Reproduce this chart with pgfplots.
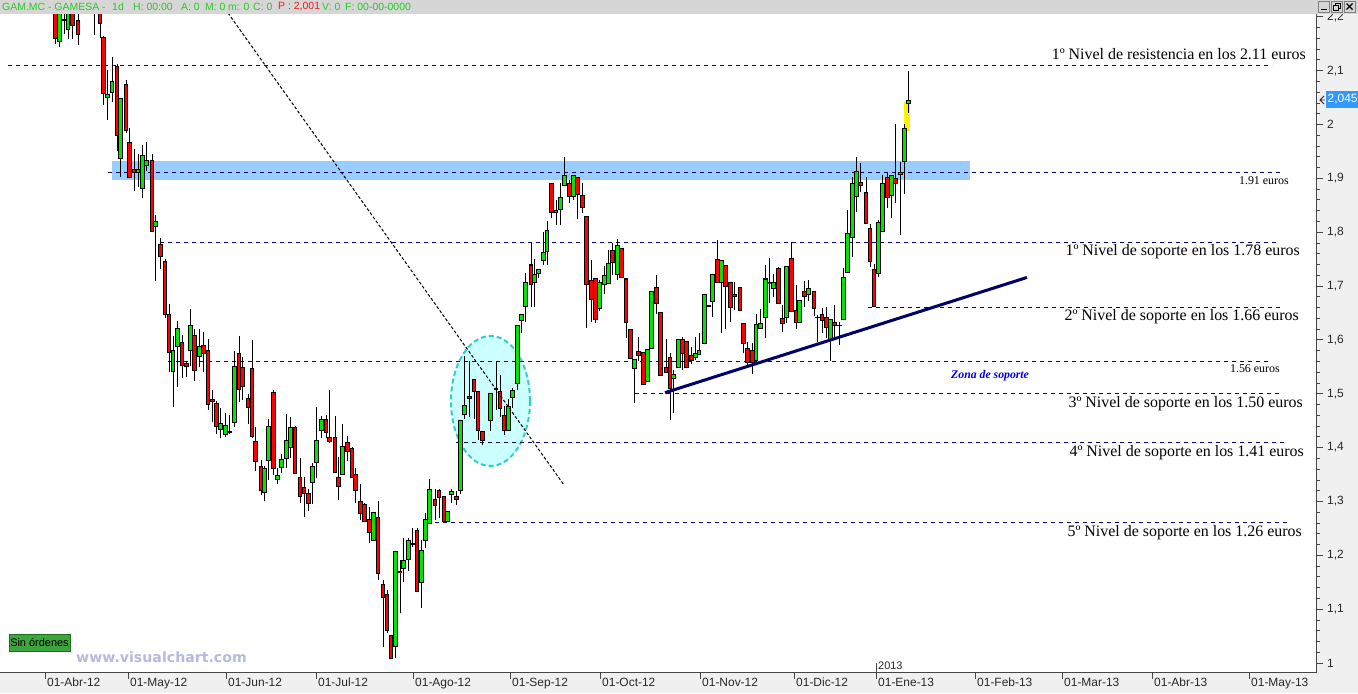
\documentclass[border=0pt]{standalone}
\usepackage{fontspec}
\setmainfont{Liberation Serif}
\setsansfont{Liberation Sans}
\newfontfamily\wwwfont{DejaVu Sans}
\usepackage{pgfplots}
\usepackage{pgfplotstable}
\pgfplotsset{compat=1.18}

\definecolor{panelgray}{RGB}{240,240,240}
\definecolor{bargray}{RGB}{214,214,214}
\definecolor{axisgray}{RGB}{70,70,70}
\definecolor{labelgray}{RGB}{40,40,40}
\definecolor{navyline}{RGB}{0,0,102}
\definecolor{bandblue}{RGB}{153,204,255}
\definecolor{ellfill}{RGB}{204,255,255}
\definecolor{elldraw}{RGB}{51,204,204}
\definecolor{candlered}{RGB}{255,0,0}
\definecolor{candlegreen}{RGB}{0,230,0}
\definecolor{topgreen}{RGB}{40,200,40}
\definecolor{topred}{RGB}{240,30,30}
\definecolor{pricebox}{RGB}{51,153,255}
\definecolor{wwwcol}{RGB}{180,186,222}
\definecolor{btngreen}{RGB}{60,165,60}
\definecolor{btnborder}{RGB}{30,110,30}
\definecolor{zonablue}{RGB}{0,0,230}

\newcommand\annot{\fontsize{16}{16}\selectfont}
\newcommand\annotsmall{\fontsize{12}{12}\selectfont}

% GAMESA daily candles: x position, open, high, low, close
\pgfplotstableread{
x o h l c
55.7 2.25 2.27 2.149 2.159
64 2.195 2.22 2.168 2.193
72.7 2.23 2.25 2.159 2.182
78 2.194 2.215 2.148 2.167
94 2.26 2.27 2.167 2.23
100 2.235 2.25 2.160 2.186
103.7 2.162 2.165 2.037 2.056
117 2.108 2.112 1.950 1.978
126 2.075 2.083 1.985 1.988
129.7 1.967 1.993 1.900 1.900
134 1.918 1.954 1.876 1.909
152 1.934 1.945 1.800 1.800
160.7 1.778 1.790 1.732 1.753
165 1.746 1.750 1.641 1.647
169 1.648 1.667 1.540 1.575
182 1.597 1.610 1.530 1.551
186.7 1.558 1.561 1.532 1.549
194.7 1.609 1.620 1.523 1.543
203.7 1.590 1.614 1.541 1.574
208 1.581 1.602 1.470 1.480
212.7 1.490 1.507 1.447 1.484
216.7 1.483 1.487 1.425 1.439
229.3 1.430 1.461 1.426 1.427
239 1.575 1.607 1.485 1.507
242.7 1.549 1.568 1.488 1.513
248 1.492 1.500 1.444 1.473
252 1.547 1.600 1.417 1.419
255.7 1.412 1.439 1.357 1.373
261 1.365 1.377 1.312 1.320
273.7 1.503 1.507 1.349 1.360
295 1.438 1.440 1.351 1.351
300 1.346 1.380 1.298 1.309
304 1.327 1.346 1.272 1.314
308.7 1.316 1.324 1.283 1.295
326 1.454 1.461 1.417 1.427
329.7 1.419 1.507 1.408 1.411
335 1.419 1.459 1.353 1.353
338.7 1.346 1.383 1.303 1.327
347.7 1.411 1.422 1.376 1.391
352 1.399 1.402 1.343 1.343
355.7 1.351 1.362 1.298 1.320
360.7 1.301 1.332 1.266 1.276
364.7 1.295 1.297 1.262 1.262
369.7 1.267 1.290 1.222 1.241
378 1.271 1.301 1.155 1.166
383 1.146 1.155 1.030 1.121
387 1.129 1.136 1.055 1.060
391 1.052 1.052 1.007 1.007
400 1.171 1.191 1.092 1.167
412.3 1.222 1.250 1.216 1.220
417 1.247 1.250 1.131 1.131
435 1.305 1.324 1.266 1.292
439 1.321 1.324 1.269 1.306
444 1.310 1.310 1.262 1.262
456.7 1.311 1.320 1.293 1.303
469.7 1.496 1.560 1.457 1.491
474 1.527 1.527 1.454 1.504
478 1.505 1.505 1.414 1.430
482.7 1.430 1.430 1.405 1.412
496 1.510 1.560 1.470 1.507
500 1.505 1.535 1.457 1.471
504 1.460 1.477 1.423 1.430
531 1.740 1.782 1.662 1.702
551.7 1.891 1.891 1.826 1.835
569.7 1.891 1.897 1.854 1.866
577.7 1.903 1.903 1.824 1.869
582.7 1.869 1.891 1.835 1.844
586.7 1.830 1.830 1.623 1.702
591.7 1.711 1.748 1.634 1.675
595.7 1.715 1.715 1.632 1.637
612.7 1.767 1.780 1.720 1.742
621.7 1.770 1.770 1.714 1.714
626 1.714 1.714 1.603 1.631
630.7 1.621 1.621 1.564 1.564
638.7 1.580 1.606 1.560 1.570
643.7 1.578 1.578 1.516 1.516
656.7 1.699 1.720 1.648 1.667
660.7 1.651 1.651 1.533 1.533
666 1.549 1.601 1.539 1.539
670 1.569 1.576 1.452 1.508
682.7 1.601 1.606 1.544 1.574
686.7 1.598 1.598 1.547 1.547
691.7 1.572 1.587 1.556 1.560
708.5 1.663 1.664 1.661 1.662
717.7 1.750 1.785 1.705 1.705
725.7 1.739 1.739 1.620 1.699
730.7 1.708 1.708 1.634 1.660
734.3 1.685 1.708 1.655 1.680
740 1.699 1.699 1.654 1.654
743.7 1.632 1.632 1.575 1.592
747.7 1.585 1.597 1.550 1.558
752.7 1.581 1.595 1.537 1.558
769.7 1.708 1.752 1.668 1.704
778.7 1.733 1.736 1.667 1.667
782.7 1.640 1.665 1.614 1.629
791.7 1.752 1.781 1.651 1.651
796 1.656 1.702 1.620 1.631
804.7 1.691 1.710 1.662 1.680
814 1.691 1.691 1.644 1.657
817.3 1.642 1.646 1.597 1.640
822 1.648 1.659 1.612 1.636
826.7 1.642 1.661 1.603 1.623
834.7 1.634 1.665 1.606 1.626
839.3 1.627 1.634 1.591 1.626
860.7 1.894 1.929 1.875 1.886
866 1.875 1.903 1.815 1.815
870 1.808 1.816 1.735 1.744
874 1.731 1.741 1.661 1.661
887.7 1.902 1.909 1.844 1.863
895.7 1.900 2.001 1.854 1.890
}\redc

\pgfplotstableread{
x o h l c
59.3 2.154 2.26 2.143 2.23
68 2.175 2.24 2.159 2.22
107.3 2.049 2.101 2.008 2.056
112 2.058 2.125 2.041 2.080
120.3 1.935 2.050 1.902 2.050
138 1.909 1.945 1.883 1.917
142.3 1.880 1.962 1.863 1.943
146.3 1.922 1.967 1.914 1.934
155.3 1.809 1.832 1.710 1.821
173 1.541 1.608 1.475 1.581
177.3 1.586 1.636 1.513 1.623
190.3 1.580 1.657 1.552 1.628
199.3 1.569 1.620 1.549 1.589
220.3 1.433 1.473 1.417 1.445
225.3 1.423 1.464 1.420 1.442
234.3 1.446 1.579 1.439 1.552
264.3 1.316 1.365 1.300 1.362
268.3 1.376 1.454 1.339 1.440
277.3 1.339 1.362 1.332 1.349
281.3 1.362 1.388 1.353 1.378
286.3 1.378 1.462 1.362 1.415
290.3 1.400 1.456 1.380 1.439
312.3 1.334 1.372 1.295 1.366
316.3 1.371 1.475 1.343 1.415
321.7 1.430 1.459 1.417 1.453
342.3 1.350 1.444 1.350 1.403
373.3 1.227 1.280 1.227 1.280
395.3 1.030 1.208 1.009 1.208
403.3 1.174 1.232 1.151 1.191
408.3 1.191 1.232 1.171 1.228
421.3 1.149 1.228 1.103 1.210
425.3 1.226 1.278 1.213 1.267
429.7 1.259 1.342 1.259 1.323
447.3 1.261 1.282 1.261 1.282
451.7 1.312 1.324 1.298 1.320
460.3 1.320 1.451 1.314 1.451
464.3 1.460 1.570 1.454 1.480
490.3 1.450 1.501 1.430 1.501
508.7 1.430 1.490 1.430 1.477
512.7 1.493 1.510 1.473 1.507
517.7 1.519 1.628 1.507 1.628
521.7 1.636 1.649 1.612 1.649
525.3 1.662 1.724 1.634 1.708
534.3 1.706 1.751 1.662 1.722
538.3 1.722 1.731 1.714 1.731
543.3 1.747 1.801 1.739 1.763
547 1.763 1.821 1.739 1.804
556 1.835 1.860 1.813 1.841
560.3 1.841 1.891 1.813 1.865
564.3 1.885 1.940 1.885 1.906
573.7 1.866 1.906 1.860 1.906
599.3 1.657 1.711 1.654 1.708
604.3 1.702 1.737 1.686 1.720
608.3 1.703 1.767 1.703 1.742
617.3 1.720 1.788 1.711 1.777
634.3 1.546 1.564 1.482 1.564
647.3 1.521 1.584 1.521 1.584
651.3 1.584 1.690 1.584 1.690
673.3 1.527 1.544 1.464 1.536
678.3 1.547 1.601 1.547 1.601
695.3 1.566 1.606 1.562 1.575
699 1.572 1.612 1.572 1.581
704.3 1.592 1.685 1.592 1.685
712.7 1.671 1.722 1.643 1.722
721.3 1.705 1.748 1.613 1.748
756 1.561 1.649 1.556 1.629
760.3 1.621 1.657 1.621 1.631
765.3 1.640 1.739 1.603 1.714
773.3 1.694 1.722 1.679 1.708
786.3 1.640 1.737 1.631 1.737
799.3 1.631 1.674 1.631 1.674
808.3 1.683 1.711 1.673 1.696
830.3 1.600 1.638 1.561 1.638
843.3 1.637 1.733 1.637 1.717
847.3 1.724 1.841 1.724 1.798
852.3 1.789 1.903 1.753 1.891
856.3 1.865 1.940 1.838 1.914
878.3 1.722 1.822 1.716 1.818
882.3 1.801 1.906 1.801 1.891
891.7 1.868 1.906 1.827 1.906
900.3 1.906 1.931 1.794 1.911
904.3 1.930 2.001 1.870 1.993
908.3 2.038 2.099 2.022 2.045
}\greenc

% one vertical stroke per row, from y up to y + error
\pgfplotsset{
  candle/.style={draw=none, mark=none, forget plot,
    error bars/.cd, y dir=plus, y explicit, error mark=none,
    error bar style={#1}},
}

\begin{document}
\begin{tikzpicture}[x=1bp,y=1bp]
\path[use as bounding box] (0,0) rectangle (1358,693);
% side and bottom panels
\fill[panelgray] (0,0) rectangle (1358,20);
\fill[panelgray] (1316,0) rectangle (1358,693);

\begin{axis}[
  at={(0bp,20bp)}, anchor=south west,
  scale only axis, width=1316bp, height=659bp,
  xmin=0, xmax=1316, ymin=0.98143, ymax=2.2052,
  axis x line*=bottom, axis y line*=right,
  axis line style={draw=axisgray, line width=1bp},
  xtick=\empty,
  ytick={1,1.1,1.2,1.3,1.4,1.5,1.6,1.7,1.8,1.9,2,2.1,2.2},
  minor y tick num=4,
  tick align=outside,
  major tick length=7bp, minor tick length=4bp,
  every tick/.style={draw=axisgray, line width=0.8bp},
  scaled y ticks=false,
  yticklabel style={font=\sffamily\fontsize{12}{12}\selectfont, text=labelgray,
    anchor=west, inner sep=0pt, xshift=4bp},
  /pgf/number format/use comma,
  /pgf/number format/fixed,
  /pgf/number format/precision=1,
  /pgf/number format/assume math mode=true,
]
% resistance band around 1.91
\addplot[draw=none, fill=bandblue, forget plot] coordinates
  {(112,1.8965) (970,1.8965) (970,1.933) (112,1.933)} -- cycle;
% consolidation zone
\fill[ellfill] (axis cs:490.5,1.4865) ellipse [x radius=39.5bp, y radius=65bp];
\draw[elldraw, line width=2bp, dash pattern=on 5bp off 3bp]
  (axis cs:490.5,1.4865) ellipse [x radius=39.5bp, y radius=65bp];
% last session highlight
\addplot[draw=none, fill=yellow, forget plot] coordinates
  {(903.5,1.9886) (910,1.9886) (910,2.0424) (903.5,2.0424)} -- cycle;

% support and resistance levels
\pgfplotsset{level/.style={navyline, line width=1bp, dash pattern=on 4bp off 4bp, forget plot}}
\addplot[level] coordinates {(8,2.11) (1272,2.11)};
\addplot[level] coordinates {(108,1.91) (1280,1.91)};
\addplot[level] coordinates {(160,1.78) (1278,1.78)};
\addplot[level] coordinates {(868,1.66) (1280,1.66)};
\addplot[level] coordinates {(168,1.56) (1269,1.56)};
\addplot[level] coordinates {(635,1.50) (1283,1.50)};
\addplot[level] coordinates {(456,1.41) (1287,1.41)};
\addplot[level] coordinates {(435,1.26) (1287,1.26)};

% wicks
\addplot[candle={draw=black, line width=1bp}] table[x=x, y=l, y error expr=\thisrow{h}-\thisrow{l}] {\redc};
\addplot[candle={draw=black, line width=1bp}] table[x=x, y=l, y error expr=\thisrow{h}-\thisrow{l}] {\greenc};
% bodies: black frame, then coloured fill
\addplot[candle={draw=black, line width=4.6bp}] table[x=x, y=c, y error expr={max(\thisrow{o}-\thisrow{c},0.0019)}] {\redc};
\addplot[candle={draw=black, line width=4.6bp}] table[x=x, y=o, y error expr={max(\thisrow{c}-\thisrow{o},0.0019)}] {\greenc};
\addplot[candle={draw=candlered, line width=2.6bp}] table[x=x, y expr=\thisrow{c}+0.00186, y error expr={max(\thisrow{o}-\thisrow{c}-0.00372,0)}] {\redc};
\addplot[candle={draw=candlegreen, line width=2.6bp}] table[x=x, y expr=\thisrow{o}+0.00186, y error expr={max(\thisrow{c}-\thisrow{o}-0.00372,0)}] {\greenc};

% rising support trend and falling trend
\addplot[navyline, line width=3bp, forget plot] coordinates {(665,1.502) (1027,1.716)};
\addplot[black, line width=1bp, dash pattern=on 3bp off 2bp, forget plot] coordinates {(228,2.207) (564,1.3305)};

% level captions
\node[anchor=east, inner sep=0pt, font=\annot] at (axis cs:1306,2.131) {1º Nivel de resistencia en los 2.11 euros};
\node[anchor=east, inner sep=0pt, font=\annotsmall] at (axis cs:1289,1.895) {1.91 euros};
\node[anchor=east, inner sep=0pt, font=\annot] at (axis cs:1300,1.763) {1º Nivel de soporte en los 1.78 euros};
\node[anchor=east, inner sep=0pt, font=\annot] at (axis cs:1299,1.6425) {2º Nivel de soporte en los 1.66 euros};
\node[anchor=east, inner sep=0pt, font=\annotsmall] at (axis cs:1280,1.546) {1.56 euros};
\node[anchor=west, inner sep=0pt, font=\fontsize{11.8}{11.8}\selectfont\bfseries\itshape, text=zonablue] at (axis cs:951,1.533) {Zona de soporte};
\node[anchor=east, inner sep=0pt, font=\annot] at (axis cs:1303,1.481) {3º Nivel de soporte en los 1.50 euros};
\node[anchor=east, inner sep=0pt, font=\annot] at (axis cs:1304,1.390) {4º Nivel de soporte en los 1.41 euros};
\node[anchor=east, inner sep=0pt, font=\annot] at (axis cs:1302,1.2414) {5º Nivel de soporte en los 1.26 euros};
\end{axis}

% date axis
\foreach \p/\t in {45/01-Abr-12, 128/01-May-12, 226/01-Jun-12, 316/01-Jul-12,
  413/01-Ago-12, 510/01-Sep-12, 600/01-Oct-12, 700/01-Nov-12, 794/01-Dic-12,
  876/01-Ene-13, 975/01-Feb-13, 1062/01-Mar-13, 1152/01-Abr-13, 1249/01-May-13}{
  \draw[axisgray, line width=0.8bp] (\p,20) -- (\p,14);
  \node[anchor=north west, inner sep=0pt, font=\sffamily\fontsize{12}{12}\selectfont, text=labelgray] at (\p+2,15.5) {\t};
}
% year marker
\draw[axisgray, line width=0.8bp] (876,20) -- (876,30);
\node[anchor=south west, inner sep=0pt, font=\sffamily\fontsize{11}{11}\selectfont, text=labelgray] at (878,23.5) {2013};

% order status and site mark
\draw[fill=btngreen, draw=btnborder, line width=0.8bp] (9,42) rectangle (70,59);
\node[inner sep=0pt, font=\sffamily\fontsize{11}{11}\selectfont] at (39.5,50.5) {Sin órdenes};
\node[anchor=west, inner sep=0pt, font=\wwwfont\bfseries\fontsize{14.2}{14.2}\selectfont, text=wwwcol] at (76,36) {www.visualchart.com};

% last price tag
\fill[pricebox] (1326,585) rectangle (1358,602);
\node[anchor=west, inner sep=0pt, font=\sffamily\fontsize{12}{12}\selectfont, text=white] at (1327.5,593.5) {2,045};
\draw[labelgray, line width=0.8bp] (1324,597) -- (1320,593) -- (1324,589) (1320,593) -- (1325,593);

% title bar
\fill[bargray] (0,679) rectangle (1358,693);
\begin{scope}[every node/.style={anchor=west, inner sep=0pt, font=\sffamily\fontsize{10.5}{10.5}\selectfont, text=topgreen}]
\node at (2,686) {GAM.MC - GAMESA -};
\node at (112,686) {1d};
\node at (133,686) {H: 00:00};
\node at (181,686) {A: 0};
\node at (205,686) {M: 0};
\node at (228,686) {m: 0};
\node at (253,686) {C: 0};
\node[text=topred] at (278,686) {P : 2,001};
\node at (322,686) {V: 0};
\node at (345,686) {F: 00-00-0000};
\end{scope}
% window buttons
\foreach \bx in {1318,1331,1344}{
  \draw[fill=bargray, draw=gray, line width=0.5bp] (\bx,681) rectangle (\bx+11,692);
}
\draw[black, line width=1.2bp] (1320.5,683.5) -- (1326.5,683.5);
\draw[black, line width=0.8bp] (1333,683) rectangle (1338.5,688) (1335,688) -- (1335,690) -- (1340.5,690) -- (1340.5,685) -- (1338.5,685);
\draw[black, line width=1.2bp] (1346.5,683.5) -- (1352.5,689.5) (1346.5,689.5) -- (1352.5,683.5);
\end{tikzpicture}
\end{document}
